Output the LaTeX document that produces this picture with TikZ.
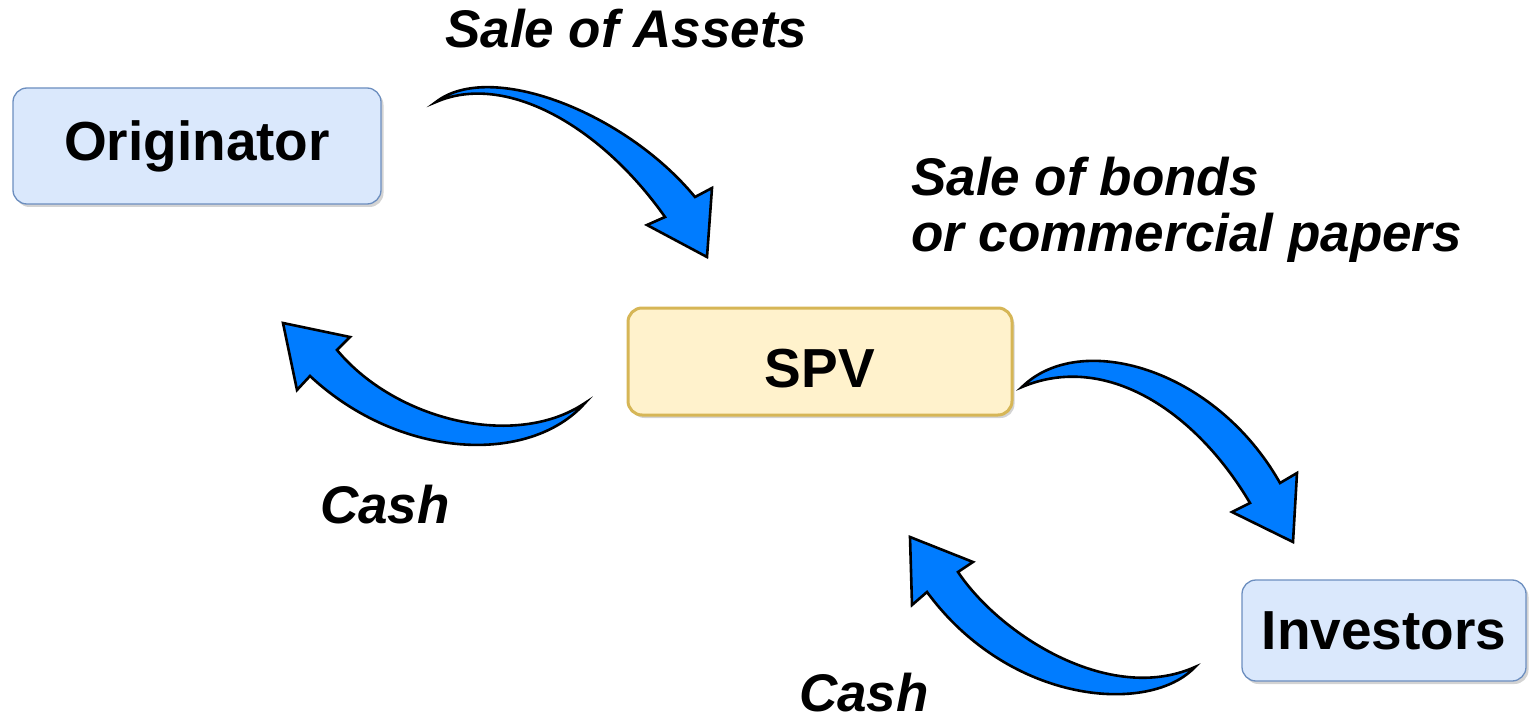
\documentclass[tikz,border=0pt]{standalone}
\usepackage{fontspec}
\setmainfont{Liberation Sans}
\usetikzlibrary{shadows}
\definecolor{boxblue}{HTML}{DAE8FC}
\definecolor{lineblue}{HTML}{6C8EBF}
\definecolor{boxyellow}{HTML}{FFF2CC}
\definecolor{lineyellow}{HTML}{D6B656}
\definecolor{arrowblue}{RGB}{0,124,255}
\begin{document}
\begin{tikzpicture}[x=1pt,y=-1pt,
  entity/.style={rounded corners=14pt, fill=boxblue, draw=lineblue, line width=1.3pt,
    font=\fontsize{55}{60}\selectfont\bfseries, inner sep=0pt,
    drop shadow={shadow xshift=2.5pt, shadow yshift=-3pt, opacity=0.35, fill=gray}},
  spvbox/.style={entity, fill=boxyellow, draw=lineyellow, line width=3pt},
  flowlabel/.style={font=\fontsize{53}{57}\selectfont\bfseries\itshape, inner sep=0pt, align=left},
  blockarrow/.style={fill=arrowblue, draw=black, line width=2.6pt, line join=miter, miter limit=10}
]
\useasboundingbox (0,0) rectangle (1532,722);

% boxes
\node[entity, minimum width=368pt, minimum height=116pt] (orig) at (197,146) {Originator};
\node[spvbox, minimum width=384pt, minimum height=107pt, text height=51pt, text depth=0pt] (spv) at (820,361.5) {SPV};
\node[entity, minimum width=284pt, minimum height=101pt] (inv) at (1384,630.5) {Investors};

% labels
\node[flowlabel, anchor=base west] (lassets) at (445,48) {Sale of Assets};
\node[flowlabel, anchor=base west] (lbonds) at (911,252) {Sale of bonds\\or commercial papers};
\node[flowlabel, anchor=base west] (lcash1) at (320,523) {Cash};
\node[flowlabel, anchor=base west] (lcash2) at (799,711) {Cash};

% arrow: sale of assets (Originator -> SPV)
\draw[blockarrow] (436,102) .. controls (490,60) and (625,112) .. (695,197)
  -- (712,188) -- (707,257) -- (647,225) -- (665,217)
  .. controls (600,125) and (505,72) .. cycle;

% arrow: cash (SPV -> Originator)
\draw[blockarrow] (585,403) .. controls (530,465) and (400,460) .. (310,376)
  -- (297,390) -- (283,323) -- (350,337) -- (337,350)
  .. controls (395,420) and (515,450) .. cycle;

% arrow: sale of bonds (SPV -> Investors)
\draw[blockarrow] (1022,387) .. controls (1080,330) and (1215,368) .. (1280,483)
  -- (1297,473) -- (1293,542) -- (1232,512) -- (1250,503)
  .. controls (1195,410) and (1105,352) .. cycle;

% arrow: cash (Investors -> SPV)
\draw[blockarrow] (1195,667) .. controls (1150,715) and (1010,705) .. (927,592)
  -- (912,605) -- (910,537) -- (973,562) -- (958,572)
  .. controls (1000,635) and (1110,705) .. cycle;
\end{tikzpicture}
\end{document}
